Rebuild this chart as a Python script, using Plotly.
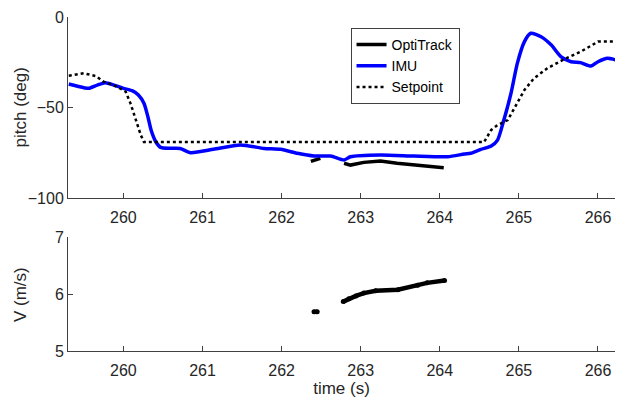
import plotly.graph_objects as go
from plotly.subplots import make_subplots

# --- data ---
imu_t = [259.31, 259.41, 259.56, 259.67, 259.77, 259.88, 260.00, 260.11, 260.19, 260.26,
         260.31, 260.35, 260.41, 260.47, 260.59, 260.72, 260.85, 261.14, 261.48, 261.78,
         261.99, 262.20, 262.41, 262.62, 262.79, 262.87, 263.25, 263.67, 264.10, 264.31,
         264.39, 264.52, 264.65, 264.73, 264.81, 264.90, 264.98, 265.07, 265.15, 265.28,
         265.41, 265.53, 265.66, 265.78, 265.91, 266.00, 266.12, 266.23]
imu_v = [-37.0, -38.1, -39.4, -37.6, -36.3, -37.6, -39.4, -40.7, -43.1, -47.7,
         -55.1, -62.4, -68.9, -72.0, -72.5, -72.6, -75.0, -73.1, -70.7, -72.6,
         -73.1, -75.3, -76.8, -76.8, -79.0, -77.2, -76.2, -76.8, -77.2, -75.7,
         -75.3, -73.1, -71.3, -68.0, -56.9, -42.2, -25.6, -13.6, -9.0, -10.9,
         -15.5, -21.9, -24.7, -25.2, -27.1, -24.7, -22.8, -23.8]

sp_t = [259.31, 259.50, 259.65, 259.75, 259.92, 260.03, 260.09, 260.15, 260.22, 260.26,
        264.56, 264.65, 264.73, 264.86, 264.98, 265.07, 265.19, 265.36, 265.57, 265.78,
        266.00, 266.23]
sp_v = [-32.4, -31.1, -32.6, -35.7, -38.5, -41.3, -47.7, -56.0, -65.2, -69.1,
        -69.1, -62.4, -59.7, -56.9, -47.7, -40.3, -33.9, -28.3, -23.4, -19.2,
        -13.6, -13.6]

ot_t = [262.37, 262.43, 262.49, None, 262.79, 262.87, 263.04, 263.25, 263.46, 263.67, 264.05]
ot_v = [-79.8, -78.9, -78.1, None, -80.8, -81.8, -80.3, -79.6, -80.8, -81.8, -83.3]

v_t = [262.41, 262.45, None, 262.78, 262.85, 262.94, 263.04, 263.19, 263.47, 263.72, 263.84, 264.06]
v_v = [5.69, 5.69, None, 5.87, 5.92, 5.97, 6.02, 6.06, 6.08, 6.16, 6.20, 6.24]

x_ticks = [260, 261, 262, 263, 264, 265, 266]

AX = "#404040"
TXT = "#262626"
FONT = "Liberation Sans"

fig = make_subplots(rows=2, cols=1)

fig.add_trace(go.Scatter(x=ot_t, y=ot_v, mode="lines", name="OptiTrack",
                         line=dict(color="black", width=3.5)), row=1, col=1)
fig.add_trace(go.Scatter(x=imu_t, y=imu_v, mode="lines", name="IMU",
                         line=dict(color="#0000ff", width=3.5, shape="spline", smoothing=0.6)),
              row=1, col=1)
fig.add_trace(go.Scatter(x=sp_t, y=sp_v, mode="lines", name="Setpoint",
                         line=dict(color="black", width=2.5, dash="dot")), row=1, col=1)
fig.add_trace(go.Scatter(x=v_t, y=v_v, mode="lines+markers", showlegend=False,
                         line=dict(color="black", width=4.5),
                         marker=dict(color="black", size=5)), row=2, col=1)

axis_common = dict(showline=True, linecolor=AX, linewidth=1, ticks="inside", ticklen=5,
                   tickcolor=AX, showgrid=False, zeroline=False, mirror=False,
                   tickfont=dict(family=FONT, size=16, color=TXT))

fig.update_xaxes(range=[259.30, 266.215], tickvals=x_ticks, ticklabelstandoff=5, **axis_common)
fig.update_xaxes(domain=[0, 1])
fig.update_yaxes(**axis_common)

fig.update_layout(
    xaxis=dict(anchor="y"),
    yaxis=dict(domain=[0.458, 1.0], range=[-100, 0], tickvals=[-100, -50, 0]),
    xaxis2=dict(anchor="y2",
                title=dict(text="time (s)", font=dict(family=FONT, size=17, color=TXT), standoff=3)),
    yaxis2=dict(domain=[0.0, 0.340], range=[5, 7], tickvals=[5, 6, 7]),
    width=618, height=404,
    margin=dict(l=68, r=3, t=17, b=53),
    paper_bgcolor="white", plot_bgcolor="white",
    font=dict(family=FONT, color=TXT),
    legend=dict(x=0.5165, y=0.967, xanchor="left", yanchor="top",
                bgcolor="white", bordercolor=AX, borderwidth=1,
                font=dict(family=FONT, size=14, color="black"),
                tracegroupgap=0, itemwidth=30),
    annotations=[
        dict(text="pitch (deg)", xref="paper", yref="paper", x=-0.086, y=0.729,
             textangle=-90, showarrow=False, xanchor="center", yanchor="middle",
             font=dict(family=FONT, size=17, color=TXT)),
        dict(text="V (m/s)", xref="paper", yref="paper", x=-0.088, y=0.17,
             textangle=-90, showarrow=False, xanchor="center", yanchor="middle",
             font=dict(family=FONT, size=17, color=TXT)),
    ],
)

fig.write_html("out.html", config={"displayModeBar": False},
               post_script="document.body.style.margin='0';document.body.style.overflow='hidden';")
